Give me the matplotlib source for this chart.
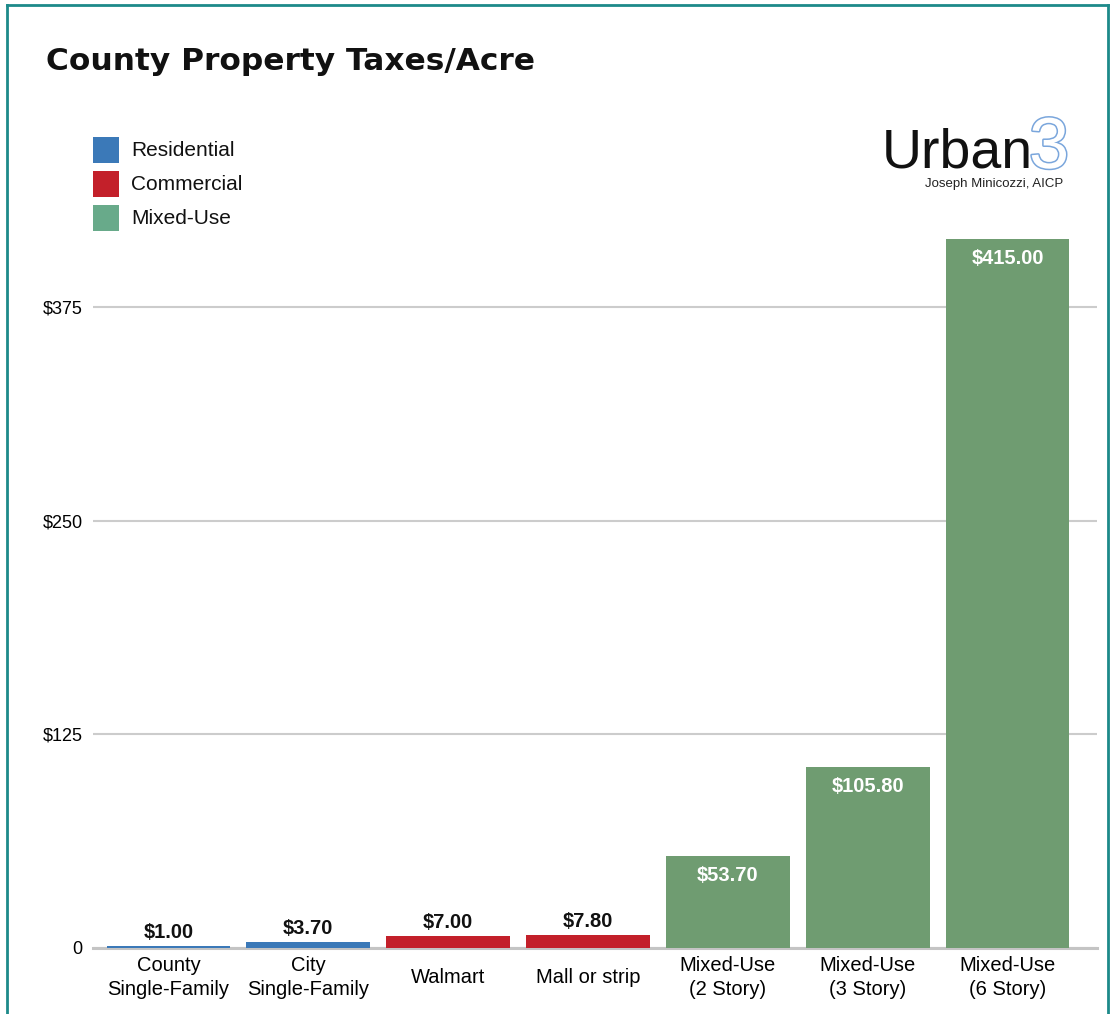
import matplotlib
matplotlib.use("Agg")
import matplotlib.pyplot as plt
from matplotlib.patches import Rectangle
from matplotlib.lines import Line2D
import matplotlib.patheffects as pe

# ---- data ----
categories = ["County\nSingle-Family", "City\nSingle-Family", "Walmart", "Mall or strip",
              "Mixed-Use\n(2 Story)", "Mixed-Use\n(3 Story)", "Mixed-Use\n(6 Story)"]
values = [1.00, 3.70, 7.00, 7.80, 53.70, 105.80, 415.00]
groups = ["Residential", "Residential", "Commercial", "Commercial", "Mixed-Use", "Mixed-Use", "Mixed-Use"]
value_labels = ["$1.00", "$3.70", "$7.00", "$7.80", "$53.70", "$105.80", "$415.00"]
yticks = [0, 125, 250, 375]
ytick_labels = ["0", "$125", "$250", "$375"]
legend_names = ["Residential", "Commercial", "Mixed-Use"]

bar_colors = {"Residential": "#3b79b8", "Commercial": "#c3202a", "Mixed-Use": "#6f9c71"}
legend_colors = {"Residential": "#3b79b8", "Commercial": "#c3202a", "Mixed-Use": "#68aa8a"}

plt.rcParams['font.family'] = ['Liberation Sans', 'DejaVu Sans']

fig = plt.figure(figsize=(11.12, 10.14), dpi=100)
W, H = 1112, 1014

def fx(px):
    return px / W

def fy(py):
    return 1 - py / H

ax = fig.add_axes([fx(93), fy(948), fx(1097) - fx(93), fy(222) - fy(948)])

x = list(range(len(categories)))
ax.bar(x, values, width=0.885, color=[bar_colors[g] for g in groups], zorder=3)

ax.set_xlim(-0.54, 6.64)
ax.set_ylim(0, 425)
ax.set_yticks(yticks)
ax.set_yticklabels(ytick_labels, fontsize=13)
ax.grid(axis='y', color='#cccccc', linewidth=1.5, zorder=0)
ax.set_xticks(x)
ax.set_xticklabels(categories, fontsize=14.5, linespacing=1.35)
for lab in ax.get_xticklabels():
    lab.set_va('center')
ax.tick_params(axis='x', length=0, pad=21)
ax.tick_params(axis='y', length=0, pad=7.5)
for s in ["top", "right", "left"]:
    ax.spines[s].set_visible(False)
ax.spines["bottom"].set_color('#c4c4c4')
ax.spines["bottom"].set_linewidth(2.2)
ax.spines["bottom"].set_zorder(2)

for xi, v, lab in zip(x, values, value_labels):
    if v > 40:
        ax.annotate(lab, (xi, v), xytext=(0, -7), textcoords='offset points',
                    ha='center', va='top', color='white', fontsize=14.5, fontweight='bold', zorder=4)
    else:
        ax.annotate(lab, (xi, v), xytext=(0, 3), textcoords='offset points',
                    ha='center', va='bottom', color='#111111', fontsize=14.5, fontweight='bold', zorder=4)

# title
fig.text(fx(46), fy(61), "County Property Taxes/Acre", fontsize=22.5, fontweight='bold',
         family=['DejaVu Sans'], va='center', ha='left', color='#111111')

# legend
sq = 26
for i, name in enumerate(legend_names):
    top = 137 + i * 34
    fig.add_artist(Rectangle((fx(93), fy(top + sq)), fx(sq), sq / H,
                             facecolor=legend_colors[name], edgecolor='none', transform=fig.transFigure))
    fig.text(fx(131), fy(top + sq / 2 + 1), name, fontsize=15, va='center', ha='left', color='#111111')

# logo
fig.text(fx(882), fy(168), "Urban", fontsize=40, va='baseline', ha='left', color='#111111')
fig.text(fx(1029), fy(168), "3", fontsize=52, va='baseline', ha='left', color='white',
         path_effects=[pe.withStroke(linewidth=2.2, foreground='#7aa6dc')])
fig.text(fx(1063), fy(184), "Joseph Minicozzi, AICP", fontsize=9.5, va='center', ha='right', color='#222222')

# border
bc = '#1d8a8a'
fig.add_artist(Line2D([fx(7), fx(7)], [fy(5), 0], color=bc, linewidth=2, transform=fig.transFigure))
fig.add_artist(Line2D([fx(7), fx(1108)], [fy(5), fy(5)], color=bc, linewidth=2, transform=fig.transFigure))
fig.add_artist(Line2D([fx(1108), fx(1108)], [fy(5), 0], color=bc, linewidth=2, transform=fig.transFigure))

fig.savefig("out.png", dpi=100)
